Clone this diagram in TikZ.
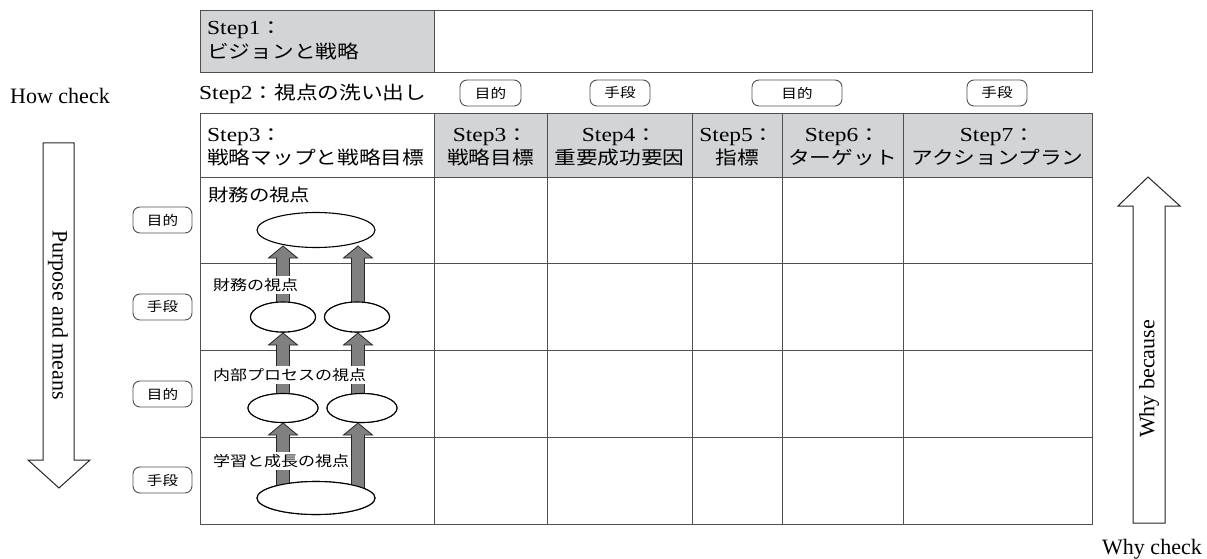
\documentclass[tikz,border=0pt]{standalone}
\usepackage{fontspec}
\setmainfont{Liberation Serif}
\newfontfamily\tlat{Liberation Serif}[FakeStretch=1.18,Scale=1.08]
\newfontfamily\tjp{Noto Sans CJK JP}[FakeStretch=1.18]
\usetikzlibrary{shapes.geometric,calc}
\definecolor{hgray}{RGB}{211,212,214}
\definecolor{agray}{RGB}{128,128,128}
\definecolor{tline}{RGB}{80,80,80}
\newcommand\hdsize{\fontsize{18.4}{23}\selectfont}
\newcommand\lbsize{\fontsize{17.3}{20}\selectfont}
\newcommand\smsize{\fontsize{14.4}{17}\selectfont}
\newcommand\plsize{\fontsize{13.2}{15}\selectfont}
\newcommand\outsize{\fontsize{22}{26}\selectfont}
\newcommand\stp[1]{{\tlat Step#1}{\tjp ：}}
\newcommand\uparr[2]{%
  \draw[blk] ($(#2 |- #1.center)+(-6.5,0)$) -- ($(#2)+(-6.5,12)$) -- ($(#2)+(-14.5,12)$) -- (#2)
    -- ($(#2)+(14.5,12)$) -- ($(#2)+(6.5,12)$) -- ($(#2 |- #1.center)+(6.5,0)$) -- cycle;}
\begin{document}
\begin{tikzpicture}[x=1pt,y=-1pt,
  grid/.style={draw=tline,line width=0.9pt},
  pill/.style={draw=tline,rounded corners=7pt,line width=0.9pt,minimum height=26pt,inner sep=0pt,font=\plsize\tjp},
  oval/.style={ellipse,draw=black,line width=1.1pt,fill=white,inner sep=0pt},
  blk/.style={fill=agray,draw=black!85,line width=0.8pt,line join=miter},
  hd/.style={anchor=base,inner sep=0pt,font=\hdsize},
  hdl/.style={anchor=base west,inner sep=0pt,font=\hdsize},
  vlabel/.style={fill=white,inner xsep=1pt,inner ysep=2pt,anchor=west,font=\smsize\tjp},
  outtext/.style={inner sep=0pt,font=\outsize},
  bigarrow/.style={draw=black!85,line width=1pt,fill=white,line join=miter}]
\useasboundingbox (0,0) rectangle (1207,559);

% Step1 box
\fill[hgray] (200,10) rectangle (434,72);
\draw[grid] (200,10) rectangle (1092,72);
\draw[grid] (434,10) -- (434,72);
\node[hdl] (s1a) at (207,35) {\stp1};
\node[hdl] (s1b) at (207,59) {\tjp ビジョンと戦略};

% Step2 row
\node[hdl] (s2) at (199,100) {\stp2{\tjp 視点の洗い出し}};
\node[pill,minimum width=61pt] (p1) at (490.5,93) {目的};
\node[pill,minimum width=60pt] (p2) at (620,93) {手段};
\node[pill,minimum width=90pt] (p3) at (797,93) {目的};
\node[pill,minimum width=60pt] (p4) at (997,93) {手段};

% Table
\fill[hgray] (434,113) rectangle (1092,177);
\draw[grid] (200,113) rectangle (1092,524);
\foreach \yy in {177,263,350,437} \draw[grid] (200,\yy) -- (1092,\yy);
\foreach \xx in {434,547,692,782,903} \draw[grid] (\xx,113) -- (\xx,524);

\node[hdl] (h1a) at (207,141.7) {\stp3};
\node[hdl] (h1b) at (207,164.5) {\tjp 戦略マップと戦略目標};
\node[hd] (h2a) at (490.5,141.7) {\stp3};
\node[hd] (h2b) at (490.5,164.5) {\tjp 戦略目標};
\node[hd] (h3a) at (619.5,141.7) {\stp4};
\node[hd] (h3b) at (619.5,164.5) {\tjp 重要成功要因};
\node[hd] (h4a) at (737,141.7) {\stp5};
\node[hd] (h4b) at (737,164.5) {\tjp 指標};
\node[hd] (h5a) at (842.5,141.7) {\stp6};
\node[hd] (h5b) at (842.5,164.5) {\tjp ターゲット};
\node[hd] (h6a) at (997.5,141.7) {\stp7};
\node[hd] (h6b) at (997.5,164.5) {\tjp アクションプラン};

% Left pills
\node[pill,minimum width=59pt] (l1) at (162.5,220) {目的};
\node[pill,minimum width=59pt] (l2) at (162.5,307) {手段};
\node[pill,minimum width=59pt] (l3) at (162.5,394) {目的};
\node[pill,minimum width=59pt] (l4) at (162.5,480) {手段};

% Strategy map: ellipses
\node[oval,minimum width=118pt,minimum height=35pt] (e1) at (316,230) {};
\node[oval,minimum width=65pt,minimum height=30pt] (e2a) at (283,317) {};
\node[oval,minimum width=65pt,minimum height=30pt] (e2b) at (357,317) {};
\node[oval,minimum width=70pt,minimum height=29pt] (e3a) at (283,408) {};
\node[oval,minimum width=70pt,minimum height=29pt] (e3b) at (362,408) {};
\node[oval,minimum width=118pt,minimum height=33pt] (e4) at (316,498) {};

\coordinate (t1a) at (283,246);
\coordinate (t1b) at (358,246);
\coordinate (t2a) at (283,333);
\coordinate (t2b) at (358,333);
\coordinate (t3a) at (283,423);
\coordinate (t3b) at (358,423);

\uparr{e2a}{t1a}
\uparr{e2b}{t1b}
\uparr{e3a}{t2a}
\uparr{e3b}{t2b}
\uparr{e4}{t3a}
\uparr{e4}{t3b}
% redraw ellipses on top of arrow bases
\node[oval,minimum width=65pt,minimum height=30pt] at (e2a) {};
\node[oval,minimum width=65pt,minimum height=30pt] at (e2b) {};
\node[oval,minimum width=70pt,minimum height=29pt] at (e3a) {};
\node[oval,minimum width=70pt,minimum height=29pt] at (e3b) {};
\node[oval,minimum width=118pt,minimum height=33pt] at (e4) {};

% row labels
\node[anchor=base west,inner sep=0pt,font=\lbsize\tjp] (r1) at (208,201) {財務の視点};
\node[vlabel] (r2) at (212,285) {財務の視点};
\node[vlabel] (r3) at (212,375) {内部プロセスの視点};
\node[vlabel] (r4) at (212,461) {学習と成長の視点};

% outer arrows and texts
\node[outtext,anchor=base west] (how) at (10,104) {How check};
\node[outtext,anchor=base west] (why) at (1102,554) {Why check};
\draw[bigarrow] (43,143) -- (74,143) -- (74,460) -- (90,460) -- (59,488) -- (28,460) -- (43,460) -- cycle;
\draw[bigarrow] (1133,523) -- (1165,523) -- (1165,206) -- (1180,206) -- (1148,177) -- (1118,206) -- (1133,206) -- cycle;
\node[outtext,rotate=-90] (pm) at (58,315) {Purpose and means};
\node[outtext,rotate=90] (wb) at (1149,379) {Why because};
\end{tikzpicture}
\end{document}
